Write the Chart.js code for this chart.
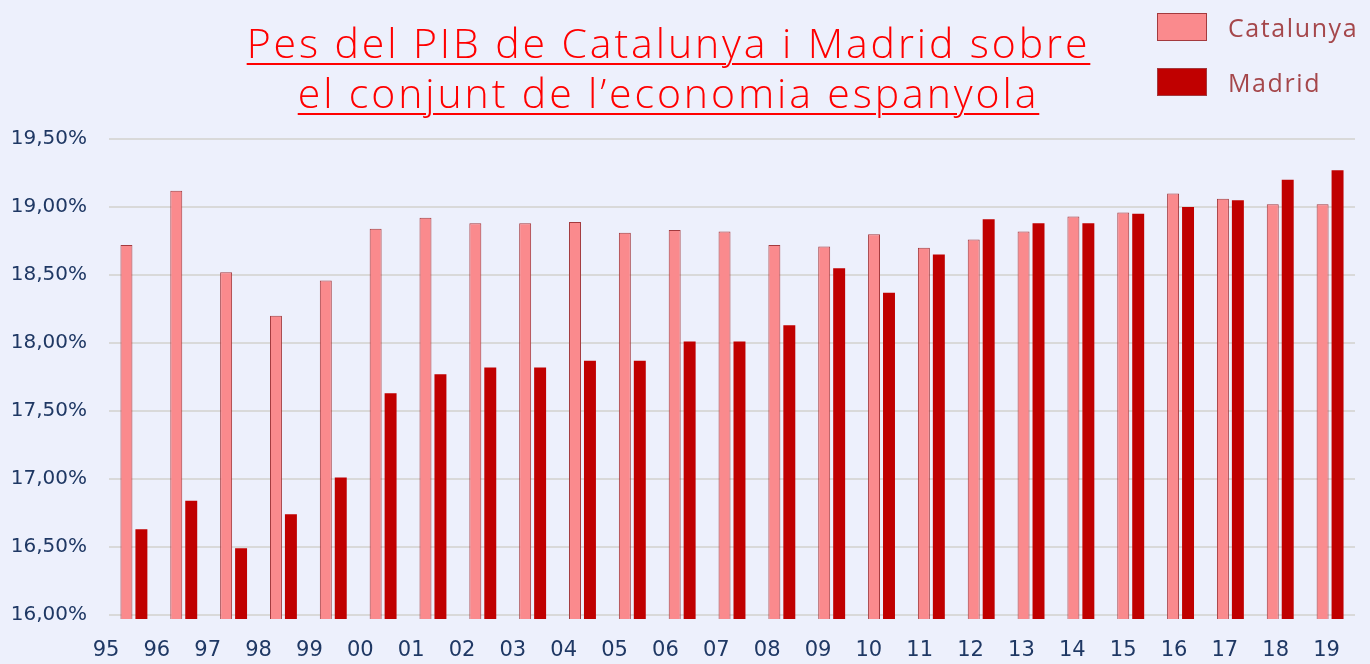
<!DOCTYPE html>
<html>
<head>
<meta charset="utf-8">
<script src="https://cdn.jsdelivr.net/npm/chart.js@4/dist/chart.umd.min.js"></script>
<style>
  html, body { margin: 0; padding: 0; background: #edf0fc; }
  #wrap { position: relative; width: 1370px; height: 664px; }
  #title {
    position: absolute; left: 0; width: 1337px; top: 17px;
    text-align: center; color: #ff0000;
    font-family: "Open Sans", sans-serif; font-weight: 300;
    font-size: 41px; line-height: 50px; letter-spacing: 2.9px;
    text-decoration: underline; text-decoration-thickness: 2px; text-underline-offset: 5px;
  }
  #legend { position: absolute; left: 1157px; top: 13px; }
  .item { display: flex; align-items: center; height: 28px; margin-bottom: 27px; }
  .box { width: 48px; height: 26px; border: 1px solid #a33a3e; margin-right: 21px; }
  .lbl { font-family: "Open Sans", sans-serif; font-size: 25px; letter-spacing: 1.6px; color: #a5474b; }
  canvas { position: absolute; left: 0; top: 0; }
</style>
</head>
<body>
<div id="wrap">
  <canvas id="chart" width="1370" height="664"></canvas>
  <div id="title">Pes del PIB de Catalunya i Madrid sobre<br>el conjunt de l’economia espanyola</div>
  <div id="legend"></div>
</div>
<script>
// Years (two-digit tick labels)
const years = ["95", "96", "97", "98", "99", "00", "01", "02", "03", "04", "05", "06", "07",
  "08", "09", "10", "11", "12", "13", "14", "15", "16", "17", "18", "19"];

// Share of Spanish GDP (%)
const catalunya = [18.72, 19.12, 18.52, 18.20, 18.46, 18.84, 18.92, 18.88, 18.88, 18.89, 18.81, 18.83, 18.82,
  18.72, 18.71, 18.80, 18.70, 18.76, 18.82, 18.93, 18.96, 19.10, 19.06, 19.02, 19.02];
const madrid = [16.63, 16.84, 16.49, 16.74, 17.01, 17.63, 17.77, 17.82, 17.82, 17.87, 17.87, 18.01, 18.01,
  18.13, 18.55, 18.37, 18.65, 18.91, 18.88, 18.88, 18.95, 19.00, 19.05, 19.20, 19.27];

// y tick values
const yTicks = [16, 16.5, 17, 17.5, 18, 18.5, 19, 19.5];

const navy = "#1f3864";

const chart = new Chart(document.getElementById("chart"), {
  type: "bar",
  data: {
    labels: years,
    datasets: [
      {
        label: "Catalunya",
        data: catalunya,
        xAxisID: "x",
        backgroundColor: "#fa8a8d",
        borderColor: "#a33a3e",
        borderWidth: 1,
        barPercentage: 0.8,
        categoryPercentage: 0.6
      },
      {
        label: "Madrid",
        data: madrid,
        xAxisID: "x",
        backgroundColor: "#c00000",
        borderColor: "#c00000",
        borderWidth: 0,
        barPercentage: 0.8,
        categoryPercentage: 0.6
      }
    ]
  },
  options: {
    responsive: false,
    animation: false,
    layout: { padding: { top: 139, right: 15, left: 0, bottom: 0 } },
    plugins: {
      legend: { display: false },
      tooltip: { enabled: false }
    },
    scales: {
      x: {
        type: "category",
        display: false,
        offset: true
      },
      // label axis: the year labels sit slightly left of their bar groups
      xl: {
        type: "linear",
        position: "bottom",
        offset: false,
        min: 0,
        max: 24.5,
        grid: { display: false, drawTicks: false, offset: false },
        border: { display: false },
        afterBuildTicks: scale => {
          scale.ticks = years.map((y, i) => ({ value: i }));
        },
        afterFit: scale => { scale.height = 45; },
        ticks: {
          autoSkip: false,
          maxRotation: 0,
          labelOffset: -3,
          padding: 19,
          color: navy,
          font: { family: "DejaVu Sans", size: 21 },
          callback: v => years[v]
        }
      },
      y: {
        min: 15.97,
        max: 19.5,
        grid: { color: "#d9d9d9", lineWidth: 2, drawTicks: false },
        border: { display: false },
        afterBuildTicks: scale => {
          scale.ticks = yTicks.map(v => ({ value: v }));
        },
        afterFit: scale => { scale.width = 109; },
        ticks: {
          padding: 22,
          color: navy,
          font: { family: "DejaVu Sans", size: 20 },
          callback: v => v.toFixed(2).replace(".", ",") + "%"
        }
      }
    }
  }
});

// HTML legend built from the datasets
const legend = document.getElementById("legend");
chart.data.datasets.forEach(ds => {
  const item = document.createElement("div");
  item.className = "item";
  item.innerHTML = '<div class="box" style="background:' + ds.backgroundColor + '"></div>' +
    '<span class="lbl">' + ds.label + '</span>';
  legend.appendChild(item);
});
</script>
</body>
</html>
